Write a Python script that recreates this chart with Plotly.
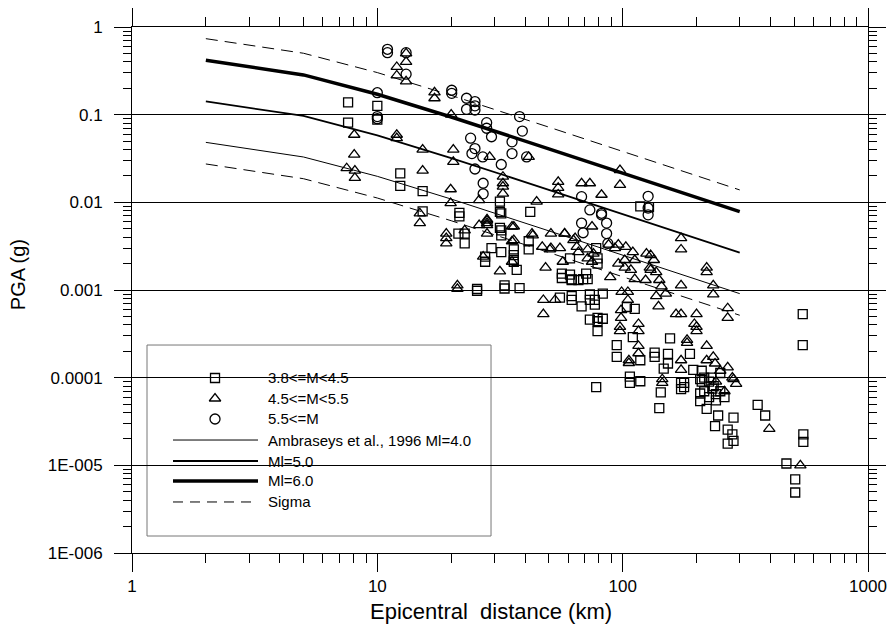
import plotly.graph_objects as go

# ---------------- data ----------------
# attenuation curves (Ambraseys et al., 1996)
curve_dist = [2, 5, 10, 20, 50, 100, 200, 300]
curve_m4 = [0.0483, 0.0329, 0.0198, 0.0109, 0.00473, 0.00250, 0.00132, 0.000909]
curve_m5 = [0.142, 0.0966, 0.0582, 0.0320, 0.0139, 0.00734, 0.00388, 0.00267]
curve_m6 = [0.417, 0.284, 0.171, 0.094, 0.0408, 0.0216, 0.0114, 0.00784]
sigma_upper = [0.736, 0.502, 0.302, 0.166, 0.0721, 0.0381, 0.0201, 0.01385]
sigma_lower = [0.0274, 0.0186, 0.0112, 0.00617, 0.00268, 0.00142, 0.000747, 0.000515]

# 3.8<=M<4.5
sq_dist = [7.6, 7.6, 10.0, 10.0, 12.4, 12.4, 15.3, 15.3, 21.6, 21.6, 21.4, 22.7, 22.7,
           25.5, 25.5, 27.5, 27.5, 29.2, 31.6, 31.6, 31.6, 32, 32, 32, 32, 33, 33, 36, 36,
           37, 38, 41.4, 41.4, 42, 56.5, 56.5, 61, 62, 55.5, 62, 62, 68, 69, 72, 71, 78, 79,
           79, 77, 77, 83, 73.5, 79, 79, 79, 83, 112, 104, 94.6, 94.6, 110, 118, 135, 135,
           156, 153, 153, 188, 194, 147, 178, 178, 107, 107, 118, 78, 143, 250, 542, 542,
           141, 207, 220, 238, 245, 268, 283, 280, 283, 268, 355, 381, 465, 505, 505, 545,
           545, 118, 128, 210, 215, 225, 230, 235, 240, 250, 260,
           36, 36, 61, 62, 66, 73.5, 73.5, 173, 173, 207, 207, 210, 215, 225, 232, 240]
sq_pga = [0.138, 0.081, 0.126, 0.088, 0.0214, 0.0154, 0.0134, 0.0079, 0.0076, 0.0069,
          0.0044, 0.0044, 0.0034, 0.00103, 0.00098, 0.0024, 0.0021, 0.0030, 0.0102, 0.0078,
          0.0051, 0.0027, 0.0075, 0.0048, 0.0042, 0.00113, 0.00104, 0.0029, 0.0021, 0.0017,
          0.00105, 0.0036, 0.0029, 0.0078, 0.00154, 0.00137, 0.0023, 0.00132, 0.00082,
          0.00085, 0.00077, 0.00065, 0.00133, 0.00133, 0.00154, 0.003, 0.0023, 0.002,
          0.00077, 0.00068, 0.00091, 0.00046, 0.00048, 0.00044, 0.00034, 0.00047, 0.00061,
          0.00064, 0.000235, 0.000173, 0.00029, 0.000158, 0.000193, 0.000173, 0.00028,
          0.000187, 0.000145, 0.000187, 0.000123, 0.000127, 8.7e-5, 7.8e-5, 1.03e-4, 8.7e-5,
          9.1e-5, 7.8e-5, 6.8e-5, 0.000113, 0.00053, 0.000235, 4.5e-5, 5.4e-5, 4.4e-5, 2.8e-5,
          3.7e-5, 2.55e-5, 3.5e-5, 2.25e-5, 1.9e-5, 1.77e-5, 4.9e-5, 3.7e-5, 1.05e-5, 6.9e-6,
          4.9e-6, 2.25e-5, 1.85e-5, 0.009, 0.0088, 9e-5, 7e-5, 6e-5, 1e-4, 8e-5, 5.5e-5, 7e-5,
          6e-5,
          0.0025, 0.0022, 0.0015, 0.0013, 0.0013, 0.00089, 0.00077, 8.7e-5, 7.4e-5, 9.6e-5,
          6.6e-5, 1.2e-4, 1e-4, 9e-5, 7.5e-5, 6.5e-5]

# 4.5<=M<5.5
tr_dist = [12, 12, 13.1, 13.1, 13.1, 17.1, 17.1, 20, 8.05, 8.05, 7.5, 8.1, 8.1, 12, 12,
           15.3, 15.3, 20.4, 20.4, 19.9, 19.9, 28.7, 26, 32.5, 14.9, 14.9, 28, 19.1, 19.1,
           22.7, 28, 28, 27, 31.6, 21.2, 21.2, 35.4, 35.4, 35.4, 97.5, 97.5, 54.6, 54.6, 54.6,
           68, 73.5, 82, 41.4, 32.5, 32.5, 32.5, 44.6, 173, 173, 220, 220, 234, 234, 268, 268,
           173, 165, 173, 200, 196, 200, 200, 183, 183, 220, 173, 173, 220, 234, 238, 268, 283,
           98.5, 98.5, 97.5, 97.5, 105, 105, 116, 116, 116, 116, 106, 106, 145, 145, 47.5,
           47.5, 53, 48.5, 36, 42.7, 47, 51, 51, 58, 55.5, 63, 75, 72, 72, 96, 103, 110, 112,
           130, 130, 134, 137, 140, 150, 112, 89, 396, 530, 240, 250, 260, 280, 290,
           36, 43, 50.5, 58, 57, 64, 65, 75, 87.6, 93, 96, 102, 102, 108, 125, 129, 124, 137,
           141, 144, 99, 66, 76, 19.1, 28, 28, 26]
tr_pga = [0.35, 0.28, 0.5, 0.4, 0.24, 0.18, 0.154, 0.1, 0.059, 0.035, 0.0245, 0.023, 0.019,
          0.059, 0.054, 0.04, 0.023, 0.04, 0.029, 0.0141, 0.0098, 0.033, 0.0106, 0.0165,
          0.0075, 0.0058, 0.0064, 0.0044, 0.0034, 0.0048, 0.0058, 0.0044, 0.0024, 0.00163,
          0.00113, 0.00103, 0.0053, 0.0036, 0.0021, 0.0233, 0.0158, 0.0171, 0.0146, 0.0123,
          0.0165, 0.0165, 0.0122, 0.033, 0.0196, 0.0151, 0.0126, 0.0102, 0.0039, 0.0029,
          0.0018, 0.0016, 0.00113, 0.00089, 0.00062, 0.00048, 0.00113, 0.00053, 0.00053,
          0.00053, 0.00041, 0.00038, 0.00034, 0.00027, 0.00025, 0.000231, 0.000158, 0.000123,
          0.000158, 0.000173, 0.000145, 0.000131, 9.6e-5, 0.00059, 0.00048, 0.00038, 0.00034,
          0.00095, 0.00077, 0.00041, 0.00034, 0.00023, 0.00019, 0.000158, 0.000147, 9.6e-5,
          8.7e-5, 0.00077, 0.00053, 0.00077, 0.0018, 0.0053, 0.0044, 0.0031, 0.0044, 0.003,
          0.0044, 0.003, 0.0037, 0.0053, 0.0029, 0.0023, 0.0033, 0.0031, 0.0027, 0.0022,
          0.0025, 0.0017, 0.0022, 0.00085, 0.00065, 0.00091, 0.00133, 0.0014, 2.6e-5, 1.0e-5,
          9e-5, 1.2e-4, 7e-5, 1e-4, 8.5e-5,
          0.0037, 0.0042, 0.0029, 0.0044, 0.0021, 0.0039, 0.0031, 0.0021, 0.0033, 0.003,
          0.002, 0.0022, 0.0018, 0.0017, 0.0026, 0.0018, 0.0013, 0.0016, 0.0013, 0.0011,
          0.00095, 0.0027, 0.0026, 0.0039, 0.0062, 0.0055, 0.0055]

# 5.5<=M
ci_dist = [11.0, 11.0, 13.1, 13.1, 10.0, 10.0, 10.0, 20.1, 20.1, 23.1, 25, 25, 25, 23.1,
           27.9, 27.9, 24, 29.2, 25, 24.3, 26.9, 25, 32, 35.4, 35.4, 27, 27, 38, 39, 40.6,
           68, 73.5, 82, 127, 127, 127, 68, 69, 86, 86, 87, 82]
ci_pga = [0.557, 0.51, 0.51, 0.29, 0.178, 0.095, 0.09, 0.19, 0.175, 0.154, 0.141, 0.126,
          0.113, 0.115, 0.081, 0.07, 0.054, 0.056, 0.041, 0.036, 0.033, 0.024, 0.027, 0.049,
          0.036, 0.0165, 0.0125, 0.095, 0.065, 0.033, 0.0116, 0.0082, 0.0075, 0.0117, 0.0086,
          0.0072, 0.0058, 0.0045, 0.0058, 0.0044, 0.0034, 0.0072]

x_tickvals = [1, 10, 100, 1000]
x_ticktext = ["1", "10", "100", "1000"]
y_tickvals = [1, 0.1, 0.01, 0.001, 0.0001, 0.00001, 0.000001]
y_ticktext = ["1", "0.1", "0.01", "0.001", "0.0001", "1E-005", "1E-006"]

legend_labels = ["3.8<=M<4.5", "4.5<=M<5.5", "5.5<=M",
                 "Ambraseys et al., 1996 Ml=4.0", "Ml=5.0", "Ml=6.0", "Sigma"]

# ---------------- figure ----------------
FONT = "Liberation Sans, Arial, sans-serif"
fig = go.Figure()

def marker(sym, size):
    return dict(symbol=sym, size=size, color="black",
                line=dict(color="black", width=1.3))

fig.add_trace(go.Scatter(x=curve_dist, y=sigma_upper, mode="lines",
                         line=dict(color="black", width=1, dash="12px,7px")))
fig.add_trace(go.Scatter(x=curve_dist, y=sigma_lower, mode="lines",
                         line=dict(color="black", width=1, dash="12px,7px")))
fig.add_trace(go.Scatter(x=curve_dist, y=curve_m4, mode="lines",
                         line=dict(color="black", width=1)))
fig.add_trace(go.Scatter(x=curve_dist, y=curve_m5, mode="lines",
                         line=dict(color="black", width=1.8)))
fig.add_trace(go.Scatter(x=curve_dist, y=curve_m6, mode="lines",
                         line=dict(color="black", width=3.5)))
fig.add_trace(go.Scatter(x=sq_dist, y=sq_pga, mode="markers", marker=marker("square-open", 9)))
fig.add_trace(go.Scatter(x=tr_dist, y=tr_pga, mode="markers", marker=marker("triangle-up-open", 10)))
fig.add_trace(go.Scatter(x=ci_dist, y=ci_pga, mode="markers", marker=marker("circle-open", 10)))

# ----- custom legend -----
box_x0, box_x1, box_y0, box_y1 = 0.0204, 0.4878, 0.0323, 0.3954
row_y = [0.3327, 0.2937, 0.2548, 0.2148, 0.1749, 0.1369, 0.0970]
sym_x = 0.1128
line_x0, line_x1 = 0.0557, 0.1712
text_x = 0.1821

fig.add_shape(type="rect", xref="paper", yref="paper", x0=box_x0, x1=box_x1,
              y0=box_y0, y1=box_y1, line=dict(color="#777777", width=1),
              fillcolor="white", layer="between")
legend_syms = ["square-open", "triangle-up-open", "circle-open"]
legend_sizes = [9, 10, 10]
for i in range(3):
    fig.add_trace(go.Scatter(x=[sym_x], y=[row_y[i]], xaxis="x2", yaxis="y2",
                             mode="markers", marker=marker(legend_syms[i], legend_sizes[i])))
line_styles = [dict(width=1), dict(width=1.8), dict(width=3.5), dict(width=1, dash="10px,7px")]
for j, st in enumerate(line_styles):
    fig.add_trace(go.Scatter(x=[line_x0, line_x1], y=[row_y[3 + j]] * 2, xaxis="x2", yaxis="y2",
                             mode="lines", line=dict(color="black", **st)))
for i, lab in enumerate(legend_labels):
    fig.add_annotation(x=text_x, y=row_y[i], xref="paper", yref="paper", text=lab,
                       showarrow=False, xanchor="left", yanchor="middle",
                       font=dict(family=FONT, size=15, color="black"))

# axis titles
fig.add_annotation(x=0.488, y=-0.112, xref="paper", yref="paper", text="Epicentral  distance (km)",
                   showarrow=False, xanchor="center", yanchor="middle",
                   font=dict(family=FONT, size=22, color="black"))
fig.add_annotation(x=-0.155, y=0.53, xref="paper", yref="paper", text="PGA (g)", textangle=-90,
                   showarrow=False, xanchor="center", yanchor="middle",
                   font=dict(family=FONT, size=20, color="black"))

minor_x = [m * 10 ** k for k in range(3) for m in range(2, 10)]
minor_y = [m * 10 ** k for k in range(-6, 0) for m in range(2, 10)]

fig.update_layout(
    width=891, height=630,
    margin=dict(l=132, r=23, t=27, b=77, autoexpand=False),
    paper_bgcolor="white", plot_bgcolor="white",
    showlegend=False,
    font=dict(family=FONT, color="black"),
    xaxis=dict(type="log", range=[0, 3], showgrid=False, zeroline=False, automargin=False,
               showline=True, linecolor="black", linewidth=1, mirror="allticks",
               ticks="outside", ticklen=18, tickcolor="black", tickwidth=1,
               tickvals=x_tickvals, ticktext=x_ticktext,
               tickfont=dict(family=FONT, size=17, color="black"),
               minor=dict(ticks="outside", ticklen=9, tickcolor="black", tickwidth=1,
                          tickvals=minor_x, showgrid=False)),
    yaxis=dict(type="log", range=[-6, 0], showgrid=True, gridcolor="black", gridwidth=1,
               zeroline=False, showline=True, linecolor="black", linewidth=1, mirror="allticks",
               automargin=False,
               ticks="outside", ticklen=17, tickcolor="black", tickwidth=1,
               tickvals=y_tickvals, ticktext=y_ticktext, ticklabelstandoff=8,
               tickfont=dict(family=FONT, size=17, color="black"),
               minor=dict(ticks="outside", ticklen=8, tickcolor="black", tickwidth=1,
                          tickvals=minor_y, showgrid=False)),
    xaxis2=dict(overlaying="x", range=[0, 1], visible=False, fixedrange=True),
    yaxis2=dict(overlaying="y", range=[0, 1], visible=False, fixedrange=True),
)

fig.write_html("out.html", config={"displayModeBar": False},
               post_script="document.body.style.margin='0px';")
